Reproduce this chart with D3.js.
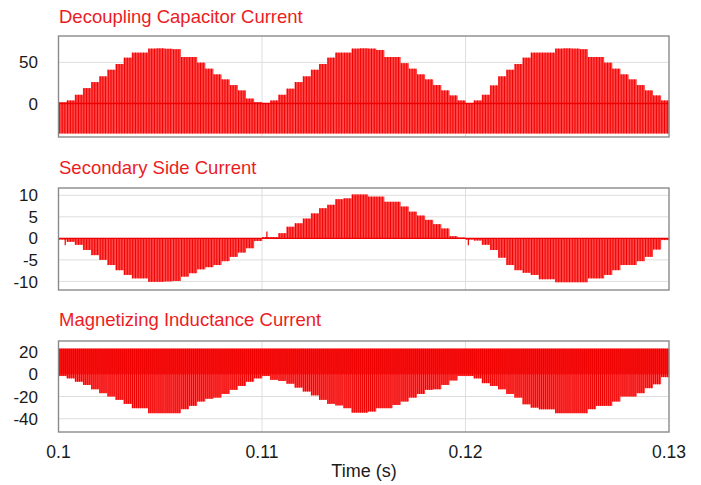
<!DOCTYPE html>
<html>
<head>
<meta charset="utf-8">
<script src="https://cdn.jsdelivr.net/npm/d3@7"></script>
<style>
  body { margin: 0; background: #fff; }
  text { font-family: "Liberation Sans", Arial, sans-serif; }
</style>
</head>
<body>
<div id="chart"></div>
<script>
const width = 701,
      height = 485;

// one value per stepped segment of the envelope (0.4 ms each)
const tStart = 0.1,
      stepDt = 0.0004;

const timeTicks = [0.1, 0.11, 0.12, 0.13];
const timeTickLabels = ["0.1", "0.11", "0.12", "0.13"];

const capTicks = [0, 50];
const secTicks = [-10, -5, 0, 5, 10];
const magTicks = [-40, -20, 0, 20];

// decoupling capacitor current: peak of each step, trough is flat
const capPeak = [
  1.5, 3.7, 10.6, 18.7, 26, 33, 41, 48, 55.7, 61.8, 61.8, 66.7, 67, 66.5, 66, 56.5, 56.5, 49.6, 42.3, 35.4, 29.3, 22.4, 15.9, 6, 1.6,
  0.5, 3.7, 10.6, 18, 26, 33, 41, 48, 55.7, 61.8, 61.8, 66.7, 67, 66.7, 65, 56.5, 56.5, 49, 42.3, 35.4, 29.3, 22.4, 15.9, 9.8, 3.7,
  0.3, 3.7, 10.6, 22, 33, 41, 48, 55.7, 61.8, 61.8, 61.8, 66.7, 67, 66.7, 66, 56.5, 56.5, 49.6, 42.3, 35.4, 29.3, 22.4, 15.9, 9.8, 3.7
];
const capTrough = -36.5;

// secondary side current: signed envelope of each step
const secEnvelope = [
  -0.3, -0.8, -1.5, -2.7, -3.9, -5, -6.2, -7.4, -8.5, -9.3, -9.3, -10.1, -10.1, -10, -9.9, -8.9, -8.1, -7.2, -6.7, -6.2, -5.3, -4.3, -3.3, -2.3, -0.6,
  0.3, 0.3, 1.2, 2.7, 3.5, 4.6, 5.8, 7, 7.8, 9.1, 9.3, 10.2, 10.2, 9.7, 9.7, 8.5, 8.5, 7.4, 6.2, 5.3, 4.3, 3.3, 2.3, 0.5, 0.2,
  -0.3, -0.5, -1.5, -2.7, -4.5, -6.2, -7.4, -8, -8.5, -9.5, -9.5, -10.2, -10.2, -10.2, -10.2, -9.3, -9.3, -8.5, -7.4, -6.2, -6.2, -5.3, -4.3, -2.6, -0.4
];
const secSpikeTimes = [0.10033, 0.11024, 0.12014];
const secSpikeValues = [-1.6, 1.6, -1.6];

// magnetizing inductance current: crest is flat, trough of each step
const magCrest = 23;
const magTrough = [
  -1.6, -3.7, -6.7, -9.6, -13.5, -17, -20, -23, -26.6, -30.5, -30.5, -35, -35, -35, -35, -31.4, -28.4, -24.5, -22, -21, -17.7, -14, -10.5, -6.7, -3.7,
  -1.6, -5, -6, -8.5, -12, -15.5, -19, -23, -26.6, -28, -30.5, -34.5, -34.5, -33.5, -30.5, -30.5, -27.6, -24.5, -21, -17.7, -14, -13.5, -9.6, -5.6, -1.6,
  -1.6, -3.7, -8, -10.5, -13.5, -17.7, -21, -27, -30, -31.5, -31.5, -35, -35, -35, -35, -31.4, -28.4, -28.4, -24.5, -20, -20, -17, -12.5, -9, -2.6
];

const red = "#ec1c24",
      fillRed = "#ff4646",
      pulseRed = "#ee0000";

const svg = d3.select("#chart")
  .append("svg")
    .attr("width", width)
    .attr("height", height);

const x = d3.scaleLinear()
  .domain([0.1, 0.13])
  .range([58.5, 669]);

const panels = [
  { title: "Decoupling Capacitor Current", titleY: 23, top: 36, bottom: 137, domain: [-40.7, 82], ticks: capTicks,
    hi: capPeak, lo: capPeak.map(() => capTrough), pulses: 3, zeroLine: true },
  { title: "Secondary Side Current", titleY: 174, top: 188, bottom: 290, domain: [-12, 11.7], ticks: secTicks,
    hi: secEnvelope.map(v => Math.max(0, v)), lo: secEnvelope.map(v => Math.min(0, v)), pulses: 3, zeroLine: true,
    spikes: true },
  { title: "Magnetizing Inductance Current", titleY: 326, top: 341, bottom: 432, domain: [-51.9, 29.9], ticks: magTicks,
    hi: magTrough.map(() => magCrest), lo: magTrough, pulses: 4, band: true }
];

panels.forEach(p => {
  const y = d3.scaleLinear().domain(p.domain).range([p.bottom, p.top]);
  const g = svg.append("g");

  // grid
  g.append("g").selectAll("line.h")
    .data(p.ticks)
    .enter().append("line")
      .attr("x1", x.range()[0]).attr("x2", x.range()[1])
      .attr("y1", d => y(d)).attr("y2", d => y(d))
      .attr("stroke", "#dedede").attr("stroke-width", 1);
  g.append("g").selectAll("line.v")
    .data(timeTicks.slice(1, -1))
    .enter().append("line")
      .attr("x1", d => x(d)).attr("x2", d => x(d))
      .attr("y1", p.top).attr("y2", p.bottom)
      .attr("stroke", "#dedede").attr("stroke-width", 1);

  const steps = p.hi.map((h, i) => ({ t: tStart + i * stepDt, hi: h, lo: p.lo[i] }));

  // body of the switching waveform
  g.append("g").selectAll("rect")
    .data(steps)
    .enter().append("rect")
      .attr("x", d => x(d.t))
      .attr("width", d => x(d.t + stepDt) - x(d.t) + 0.3)
      .attr("y", d => y(d.hi))
      .attr("height", d => Math.max(0, y(d.lo) - y(d.hi)))
      .attr("fill", fillRed);

  if (p.band) {
    g.append("rect")
      .attr("x", x(tStart))
      .attr("width", x(tStart + steps.length * stepDt) - x(tStart))
      .attr("y", y(magCrest))
      .attr("height", y(0) - y(magCrest))
      .attr("fill", "#f81616");
  }

  // individual switching pulses
  const pulses = [];
  steps.forEach(d => {
    for (let j = 0; j < p.pulses; j++) {
      pulses.push({ t: d.t + (j + 0.35) * stepDt / p.pulses, hi: d.hi, lo: d.lo });
    }
  });
  g.append("g").selectAll("line")
    .data(pulses)
    .enter().append("line")
      .attr("x1", d => x(d.t)).attr("x2", d => x(d.t))
      .attr("y1", d => y(d.hi)).attr("y2", d => y(d.lo))
      .attr("stroke", pulseRed)
      .attr("stroke-width", 1);

  if (p.spikes) {
    g.append("g").selectAll("line")
      .data(secSpikeTimes)
      .enter().append("line")
        .attr("x1", d => x(d)).attr("x2", d => x(d))
        .attr("y1", y(0)).attr("y2", (d, i) => y(secSpikeValues[i]))
        .attr("stroke", pulseRed).attr("stroke-width", 1.2);
  }

  if (p.zeroLine) {
    g.append("line")
      .attr("x1", x.range()[0]).attr("x2", x.range()[1])
      .attr("y1", y(0)).attr("y2", y(0))
      .attr("stroke", pulseRed).attr("stroke-width", 1.4);
  }

  // frame
  g.append("rect")
    .attr("x", x.range()[0]).attr("y", p.top)
    .attr("width", x.range()[1] - x.range()[0])
    .attr("height", p.bottom - p.top)
    .attr("fill", "none")
    .attr("stroke", "#8a8a8a")
    .attr("stroke-width", 1.4);

  // y tick labels
  g.append("g").selectAll("text")
    .data(p.ticks)
    .enter().append("text")
      .attr("x", 38)
      .attr("y", d => y(d))
      .attr("dy", "0.36em")
      .attr("text-anchor", "end")
      .style("font-size", "17px")
      .attr("fill", "#1a1a1a")
      .text(d => d);

  g.append("text")
    .attr("x", 59)
    .attr("y", p.titleY)
    .style("font-size", "18.5px")
    .attr("fill", red)
    .text(p.title);
});

// time axis labels
svg.append("g").selectAll("text")
  .data(timeTicks)
  .enter().append("text")
    .attr("x", d => x(d))
    .attr("y", 458)
    .attr("text-anchor", "middle")
    .style("font-size", "17.5px")
    .attr("fill", "#1a1a1a")
    .text((d, i) => timeTickLabels[i]);

svg.append("text")
  .attr("x", 364)
  .attr("y", 477)
  .attr("text-anchor", "middle")
  .style("font-size", "18px")
  .attr("fill", "#1a1a1a")
  .text("Time (s)");
</script>
</body>
</html>
